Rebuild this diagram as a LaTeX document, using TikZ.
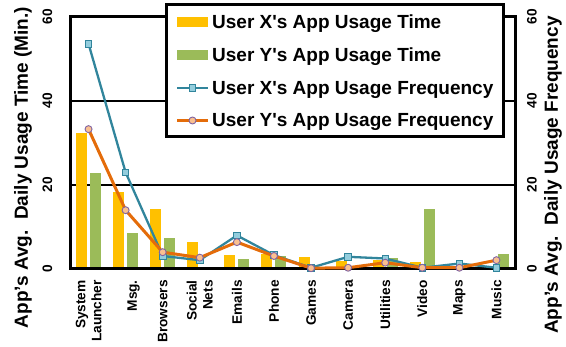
\documentclass[tikz,border=0pt]{standalone}
\usepackage{fontspec}
\setmainfont{Liberation Sans}
\definecolor{cyel}{HTML}{FFC000}
\definecolor{cgrn}{HTML}{9BBB59}
\definecolor{cblu}{HTML}{31859C}
\definecolor{cbluf}{HTML}{93CDDD}
\definecolor{corg}{HTML}{E46C0A}
\definecolor{corgf}{HTML}{FAC090}
\definecolor{cpur}{HTML}{8064A2}
\begin{document}
\begin{tikzpicture}[x=1pt,y=-1pt,
  lbl/.style={font=\bfseries\fontsize{13.7}{16}\selectfont, inner sep=0pt},
  ttl/.style={font=\bfseries\fontsize{19}{22}\selectfont, inner sep=0pt, rotate=90},
  leg/.style={font=\bfseries\fontsize{19}{22}\selectfont, inner sep=0pt, anchor=base west},
  catlbl/.style={lbl, rotate=90, anchor=east, align=right},
  barx/.style={fill=cyel},
  bary/.style={fill=cgrn},
  linex/.style={cblu, line width=2.3pt, line join=round},
  liney/.style={corg, line width=3pt, line join=round},
  mkx/.style={rectangle, draw=cblu, fill=cbluf, line width=0.9pt, minimum size=6.5pt, inner sep=0pt},
  mky/.style={circle, draw=cpur, fill=corgf, line width=0.9pt, minimum size=7pt, inner sep=0pt},
  gridline/.style={black, line width=1.2pt},
  frame/.style={black, line width=3pt},
]
\useasboundingbox (0,0) rectangle (566,347);

% horizontal grid lines at 20 and 40
\draw[gridline] (70,185) -- (515,185);
\draw[gridline] (70,101) -- (515,101);

% bars (usage time) and series points (usage frequency)
\foreach \i/\tx/\ty/\fx/\fy in {
   0/32.4/22.8/53.6/33.3,
   1/18.4/8.6/23.0/14.0,
   2/14.3/7.3/3.1/4.0,
   3/6.5/0.5/2.1/2.7,
   4/3.3/2.4/8.0/6.4,
   5/3.6/3.2/3.3/3.1,
   6/2.9/0.0/0.3/0.2,
   7/1.8/0.0/2.9/0.3,
   8/2.1/2.5/2.5/1.5,
   9/1.6/14.3/0.3/0.3,
  10/0.0/0.0/1.3/0.3,
  11/0.0/3.5/0.3/2.1} {
  \pgfmathsetmacro\cx{70+37.083*(\i+0.5)}
  \fill[barx] (\cx-12.5,269) rectangle (\cx-1.5,{269-4.2*\tx});
  \fill[bary] (\cx+1.5,269) rectangle (\cx+12.5,{269-4.2*\ty});
  \coordinate (px\i) at (\cx,{269-4.2*\fx});
  \coordinate (py\i) at (\cx,{269-4.2*\fy});
  \coordinate (cat\i) at (\cx,280);
}

% plot frame
\draw[frame] (70,17) rectangle (515,269);

% frequency series
\draw[linex] (px0) \foreach \i in {1,...,11} { -- (px\i) };
\foreach \i in {0,...,11} \node[mkx] (mx\i) at (px\i) {};
\draw[liney] (py0) \foreach \i in {1,...,11} { -- (py\i) };
\foreach \i in {0,...,11} \node[mky] (my\i) at (py\i) {};

% axis tick labels
\foreach \v in {0,20,40,60} {
  \node[lbl, rotate=90] (tl\v) at (47.5,{269-4.2*\v}) {\v};
  \node[lbl, rotate=90] (tr\v) at (532,{269-4.2*\v}) {\v};
}

% axis titles
\node[ttl] (ytitle) at (23,167.5) {App's Avg.\ \ Daily Usage Time (Min.)};
\node[ttl] (y2title) at (553,175) {App's Avg.\ \ Daily Usage Frequency};

% category labels
\node[catlbl] (c0) at (cat0) {System\\Launcher};
\node[catlbl, yshift=-8pt] (c1) at (cat1) {Msg.};
\node[catlbl] (c2) at (cat2) {Browsers};
\node[catlbl] (c3) at (cat3) {Social\\Nets};
\node[catlbl] (c4) at (cat4) {Emails};
\node[catlbl] (c5) at (cat5) {Phone};
\node[catlbl] (c6) at (cat6) {Games};
\node[catlbl] (c7) at (cat7) {Camera};
\node[catlbl] (c8) at (cat8) {Utilities};
\node[catlbl] (c9) at (cat9) {Video};
\node[catlbl] (c10) at (cat10) {Maps};
\node[catlbl] (c11) at (cat11) {Music};

% legend
\node[draw=black, line width=3pt, fill=white, minimum width=337pt, minimum height=132pt, inner sep=0pt] (legend) at (334.5,71) {};
\fill[barx] (177,17) rectangle (208,27);
\fill[bary] (177,50) rectangle (208,60);
\coordinate (lxa) at (177,88);
\coordinate (lxb) at (208,88);
\draw[linex] (lxa) -- (lxb);
\node[mkx] (lmx) at (192.5,88) {};
\coordinate (lya) at (177,120.5);
\coordinate (lyb) at (208,120.5);
\draw[liney] (lya) -- (lyb);
\node[mky] (lmy) at (192.5,120.5) {};
\node[leg] (lt1) at (212,28.5) {User X\textquotesingle s App Usage Time};
\node[leg] (lt2) at (212,61.5) {User Y\textquotesingle s App Usage Time};
\node[leg] (lt3) at (212,94.5) {User X\textquotesingle s App Usage Frequency};
\node[leg] (lt4) at (212,127) {User Y\textquotesingle s App Usage Frequency};
\end{tikzpicture}
\end{document}
